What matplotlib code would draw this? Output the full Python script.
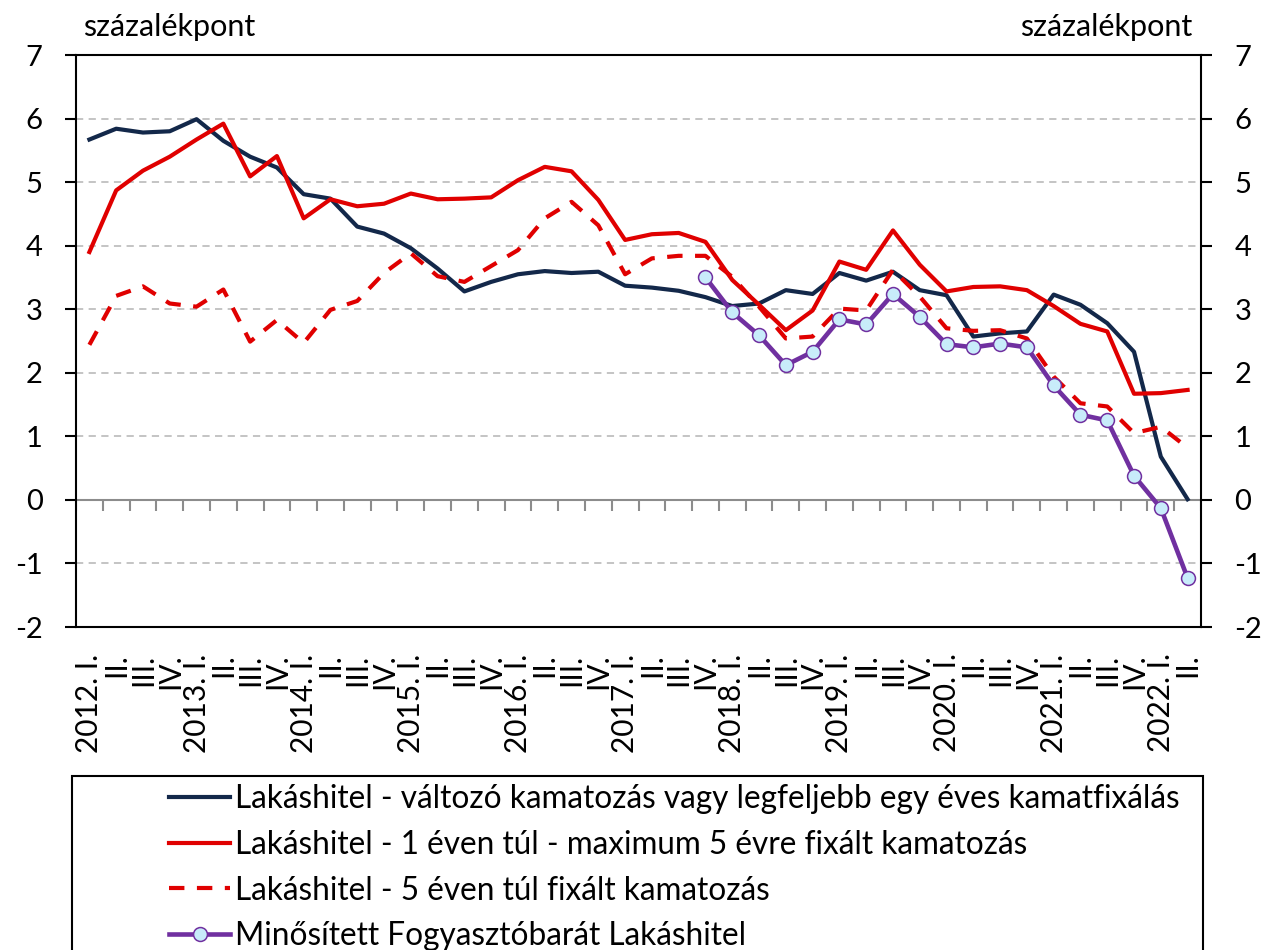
import matplotlib.pyplot as plt
import numpy as np
from matplotlib.lines import Line2D
from matplotlib.patches import Rectangle

plt.rcParams['font.family'] = ['Lato', 'DejaVu Sans']
plt.rcParams['axes.unicode_minus'] = False

# Quarters 2012 I - 2022 II
years = list(range(2012, 2023))
quarters = ["I.", "II.", "III.", "IV."]

# Series values (percentage points)
valtozo = [5.67, 5.84, 5.78, 5.80, 5.99, 5.65, 5.40, 5.23, 4.81, 4.74,
           4.30, 4.19, 3.96, 3.64, 3.28, 3.43, 3.55, 3.60, 3.57, 3.59,
           3.37, 3.34, 3.29, 3.19, 3.05, 3.09, 3.30, 3.24, 3.57, 3.45,
           3.59, 3.30, 3.22, 2.57, 2.62, 2.65, 3.23, 3.07, 2.78, 2.33,
           0.68, 0.01]
fix_1_5 = [3.90, 4.87, 5.18, 5.40, 5.67, 5.92, 5.09, 5.41, 4.43, 4.73,
           4.62, 4.66, 4.82, 4.73, 4.74, 4.76, 5.03, 5.24, 5.17, 4.72,
           4.09, 4.18, 4.20, 4.06, 3.46, 3.07, 2.67, 2.98, 3.75, 3.62,
           4.24, 3.70, 3.28, 3.35, 3.36, 3.30, 3.05, 2.77, 2.65, 1.67,
           1.68, 1.73]
fix_5_plus = [2.44, 3.21, 3.36, 3.09, 3.04, 3.31, 2.49, 2.83, 2.47, 2.99,
              3.13, 3.57, 3.88, 3.52, 3.43, 3.68, 3.93, 4.43, 4.69, 4.32,
              3.55, 3.80, 3.84, 3.84, 3.51, 3.04, 2.54, 2.57, 3.01, 2.98,
              3.62, 3.20, 2.70, 2.66, 2.67, 2.54, 1.94, 1.52, 1.47, 1.05,
              1.15, 0.82]
# Minősített Fogyasztóbarát Lakáshitel starts at 2017 IV
mfl_start = 23
mfl = [3.50, 2.95, 2.59, 2.12, 2.33, 2.84, 2.76, 3.24, 2.88, 2.45,
       2.40, 2.46, 2.40, 1.80, 1.34, 1.25, 0.38, -0.13, -1.23]

labels = [
    "Lakáshitel - változó kamatozás vagy legfeljebb egy éves kamatfixálás",
    "Lakáshitel - 1 éven túl - maximum 5 évre fixált kamatozás",
    "Lakáshitel - 5 éven túl fixált kamatozás",
    "Minősített Fogyasztóbarát Lakáshitel",
]

# Build tick labels
tick_labels = []
for y in years:
    for i, q in enumerate(quarters):
        tick_labels.append(f"{y}. {q}" if i == 0 else q)
tick_labels = tick_labels[:len(valtozo)]
n = len(valtozo)
x = np.arange(n)
x_mfl = np.arange(mfl_start, mfl_start + len(mfl))

navy = "#13284A"
red = "#E00000"
purple = "#7030A0"
light_blue = "#C8ECFA"

fig = plt.figure(figsize=(12.66, 9.5), dpi=100)
ax = fig.add_axes([76 / 1266, 1 - 627 / 950, 1125 / 1266, 572 / 950])

ax.set_xlim(-0.5, n - 0.5)
ax.set_ylim(-2, 7)
ax.set_yticks(range(-2, 8))
ax.yaxis.grid(True, color="#BFBFBF", linestyle=(0, (4, 3)), linewidth=1.3)
ax.set_axisbelow(True)

# zero line with category tick marks
ax.axhline(0, color="#8C8C8C", linewidth=1.5, zorder=2)
ax.vlines(np.arange(n + 1) - 0.5, -0.17, 0, color="#8C8C8C", linewidth=1.5, zorder=2)

ax.plot(x, valtozo, color=navy, linewidth=3, zorder=4)
ax.plot(x, fix_1_5, color=red, linewidth=3, zorder=4)
ax.plot(x, fix_5_plus, color=red, linewidth=3, linestyle=(0, (3.7, 3)), zorder=4)
ax.plot(x_mfl, mfl, color=purple, linewidth=3.3, marker="o", markersize=10,
        markerfacecolor=light_blue, markeredgecolor=purple, markeredgewidth=1.1, zorder=5)

for s in ax.spines.values():
    s.set_linewidth(1.5)
    s.set_color("black")

ax.tick_params(axis="y", which="both", left=True, right=True, labelleft=True,
               labelright=True, direction="out", length=8, width=1.5,
               pad=16, labelsize=21)
ax.set_xticks(x)
ax.set_xticklabels(tick_labels, rotation=90, fontsize=21.5)
ax.tick_params(axis="x", length=0, pad=19)

fig.text(83 / 1266, 1 - 36 / 950, "százalékpont", fontsize=22, ha="left", va="baseline")
fig.text(1192 / 1266, 1 - 36 / 950, "százalékpont", fontsize=22, ha="right", va="baseline")

# Legend
handles = [
    Line2D([], [], color=navy, linewidth=3),
    Line2D([], [], color=red, linewidth=3),
    Line2D([], [], color=red, linewidth=3, linestyle=(0, (3.7, 3))),
    Line2D([], [], color=purple, linewidth=3.3, marker="o", markersize=10,
           markerfacecolor=light_blue, markeredgecolor=purple, markeredgewidth=1.1),
]
fig.legend(handles, labels, loc="upper left", bbox_to_anchor=(169 / 1266, 1 - 784 / 950),
           frameon=False, fontsize=22.7, handlelength=1.95, handletextpad=0.15,
           labelspacing=0.5, borderpad=0, borderaxespad=0)
fig.patches.append(Rectangle((72 / 1266, -0.05), 1131 / 1266, 0.05 + (950 - 776) / 950,
                             transform=fig.transFigure, fill=False, edgecolor="black",
                             linewidth=1.5))

fig.savefig("out.png", dpi=100)
